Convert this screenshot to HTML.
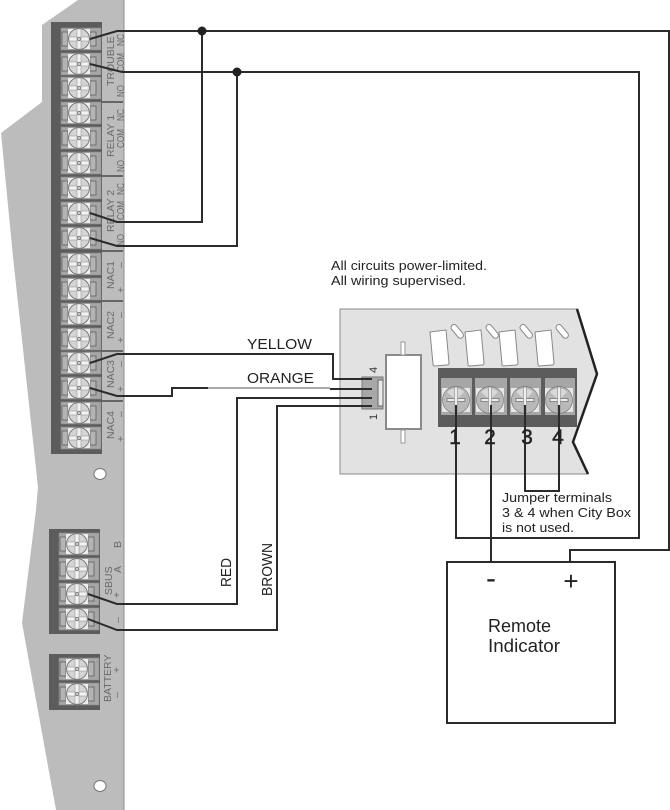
<!DOCTYPE html>
<html><head><meta charset="utf-8"><style>
html,body{margin:0;padding:0;background:#fff}
svg{display:block}
text{font-family:"Liberation Sans",sans-serif}
.w{fill:none;stroke:#2b2b2b;stroke-width:2}
.l{fill:#6a6a6a;font-size:10.5px}
.k{fill:#222;font-size:13px}
.c{fill:#222;font-size:15px}
</style></head><body>
<svg width="670" height="810" viewBox="0 0 670 810" xmlns="http://www.w3.org/2000/svg">
<defs>
<g id="t">
<rect x="-18" y="-11" width="40" height="22" fill="#a6a6a6" stroke="#8a8a8a" stroke-width=".6"/>
<rect x="-17" y="-7" width="6" height="14" fill="#b4b4b4" stroke="#555" stroke-width=".7"/>
<rect x="11" y="-7" width="6" height="14" fill="#b4b4b4" stroke="#555" stroke-width=".7"/>
<rect x="-11" y="-10" width="22" height="20" fill="#ededed"/>
<circle r="10.5" fill="#d4d4d4" stroke="#666" stroke-width=".8"/>
<rect x="-10" y="-2" width="20" height="4" fill="#f2f2f2" stroke="#888" stroke-width=".5"/>
<rect x="-2" y="-10" width="4" height="20" fill="#f2f2f2" stroke="#888" stroke-width=".5"/>
<circle r="1.8" fill="#ccc" stroke="#555" stroke-width=".6"/>
</g>
<g id="s">
<rect x="-14" y="-12" width="28" height="24" fill="#e6e6e6"/>
<circle r="13.5" fill="#b9b9b9" stroke="#777" stroke-width=".7"/>
<path d="M-9-8A12 12 0 0 1 8-8L0 0Z" fill="#d8d8d8"/>
<rect x="-9" y="-1.5" width="18" height="3" fill="#eee" stroke="#555" stroke-width=".6"/>
<rect x="-1.5" y="-13" width="3" height="26" fill="#eee" stroke="#777" stroke-width=".5"/>
</g>
<g id="f">
<path d="M-9-14L7-16L10 17Q10 19 8 19L-5 20Q-6 20-6 18Z" fill="#fff" stroke="#888" stroke-width="1"/>
<rect x="-5" y="-6" width="16" height="6" rx="3" transform="translate(14 -15) rotate(50)" fill="#fff" stroke="#888" stroke-width="1"/>
</g>
</defs>

<polygon points="78,0 124,0 124,810 56,810 22,623 36,510 38,487 13,257 1,133 42,102 42,25" fill="#bcbcbc"/>
<line x1="124" y1="0" x2="124" y2="810" stroke="#8e8e8e" stroke-width="1"/>
<rect x="51" y="22" width="51" height="432" fill="#5c5c5c"/>
<rect x="49" y="529" width="51" height="105" fill="#5c5c5c"/>
<rect x="49" y="654" width="51" height="56" fill="#5c5c5c"/>
<ellipse cx="100" cy="474" rx="6" ry="5.5" fill="#fff" stroke="#777"/>
<ellipse cx="100" cy="786" rx="6" ry="5.5" fill="#fff" stroke="#777"/>

<use href="#t" x="79" y="39"/><use href="#t" x="79" y="64"/><use href="#t" x="79" y="88"/>
<use href="#t" x="79" y="113"/><use href="#t" x="79" y="138"/><use href="#t" x="79" y="163"/>
<use href="#t" x="79" y="188"/><use href="#t" x="79" y="213"/><use href="#t" x="79" y="238"/>
<use href="#t" x="79" y="264"/><use href="#t" x="79" y="289"/><use href="#t" x="79" y="314"/>
<use href="#t" x="79" y="339"/><use href="#t" x="79" y="363"/><use href="#t" x="79" y="388"/>
<use href="#t" x="79" y="413"/><use href="#t" x="79" y="438"/>
<use href="#t" x="77" y="544"/><use href="#t" x="77" y="569"/><use href="#t" x="77" y="594"/><use href="#t" x="77" y="619"/>
<use href="#t" x="77" y="669"/><use href="#t" x="77" y="694"/>

<g stroke="#333" stroke-width="1.2">
<line x1="102" y1="102" x2="123" y2="102"/><line x1="102" y1="176" x2="123" y2="176"/>
<line x1="102" y1="251" x2="123" y2="251"/><line x1="102" y1="301" x2="123" y2="301"/>
<line x1="102" y1="351" x2="123" y2="351"/><line x1="102" y1="401" x2="123" y2="401"/>
</g>

<g class="l">
<text transform="translate(124,46) rotate(-90)" textLength="12" lengthAdjust="spacingAndGlyphs">NC</text>
<text transform="translate(124,72) rotate(-90)" textLength="19" lengthAdjust="spacingAndGlyphs">COM</text>
<text transform="translate(124,97) rotate(-90)" textLength="12" lengthAdjust="spacingAndGlyphs">NO</text>
<text transform="translate(114,86) rotate(-90)">TROUBLE</text>
<text transform="translate(124,121) rotate(-90)" textLength="12" lengthAdjust="spacingAndGlyphs">NC</text>
<text transform="translate(124,148) rotate(-90)" textLength="19" lengthAdjust="spacingAndGlyphs">COM</text>
<text transform="translate(124,172) rotate(-90)" textLength="12" lengthAdjust="spacingAndGlyphs">NO</text>
<text transform="translate(114,157) rotate(-90)">RELAY 1</text>
<text transform="translate(124,195) rotate(-90)" textLength="12" lengthAdjust="spacingAndGlyphs">NC</text>
<text transform="translate(124,220) rotate(-90)" textLength="19" lengthAdjust="spacingAndGlyphs">COM</text>
<text transform="translate(124,246) rotate(-90)" textLength="12" lengthAdjust="spacingAndGlyphs">NO</text>
<text transform="translate(114,232) rotate(-90)">RELAY 2</text>
<text transform="translate(114,289) rotate(-90)">NAC1</text>
<text transform="translate(114,339) rotate(-90)">NAC2</text>
<text transform="translate(114,388) rotate(-90)">NAC3</text>
<text transform="translate(114,439) rotate(-90)">NAC4</text>
<text transform="translate(124,268) rotate(-90)">–</text>
<text transform="translate(124,293) rotate(-90)">+</text>
<text transform="translate(124,318) rotate(-90)">–</text>
<text transform="translate(124,343) rotate(-90)">+</text>
<text transform="translate(124,367) rotate(-90)">–</text>
<text transform="translate(124,392) rotate(-90)">+</text>
<text transform="translate(124,417) rotate(-90)">–</text>
<text transform="translate(124,442) rotate(-90)">+</text>
<text transform="translate(121,548) rotate(-90)">B</text>
<text transform="translate(121,573) rotate(-90)">A</text>
<text transform="translate(112,595) rotate(-90)">SBUS</text>
<text transform="translate(120,598) rotate(-90)">+</text>
<text transform="translate(121,623) rotate(-90)">–</text>
<text transform="translate(111,702) rotate(-90)">BATTERY</text>
<text transform="translate(120,673) rotate(-90)">+</text>
<text transform="translate(120,698) rotate(-90)">–</text>
</g>

<polygon points="340,309 577,309 597,374 573,442 588,474 340,474" fill="#e2e2e2" stroke="#8a8a8a" stroke-width="1"/>
<polyline points="577,309 597,374 573,442 588,474" fill="none" stroke="#222" stroke-width="2.5"/>
<use href="#f" x="439" y="346"/><use href="#f" x="474" y="346"/><use href="#f" x="508" y="346"/><use href="#f" x="544" y="346"/>
<rect x="438" y="368" width="139" height="59" fill="#5c5c5c"/>
<g fill="#a6a6a6">
<rect x="441" y="378" width="31" height="37"/><rect x="475" y="378" width="32" height="37"/><rect x="510" y="378" width="31" height="37"/><rect x="545" y="378" width="30" height="37"/>
</g>
<use href="#s" x="456" y="400"/><use href="#s" x="490" y="400"/><use href="#s" x="525" y="400"/><use href="#s" x="559" y="400"/>

<rect x="386" y="355" width="35" height="74" fill="#fff" stroke="#8a8a8a" stroke-width="2"/>
<rect x="401" y="342" width="4" height="13" fill="#fff" stroke="#999"/>
<rect x="401" y="430" width="4" height="13" fill="#fff" stroke="#999"/>
<rect x="362" y="377" width="21" height="32" fill="#a8a8a8" stroke="#777"/>
<rect x="378" y="380" width="5" height="26" fill="#e8e8e8" stroke="#666"/>

<g class="w">
<polyline points="90,39 117,31 669,31 669,550 570,550 570,562"/>
<polyline points="90,64 122,72 639,72 639,538 456,538 456,405"/>
<polyline points="90,213 117,222 202,222 202,31"/>
<polyline points="90,238 117,246 237,246 237,72"/>
<polyline points="90,363 117,354 333,354 333,379 372,379"/>
<polyline points="90,388 117,396 172,396 172,388 208,388"/>
<polyline points="330,389 372,389"/>
<polyline points="372,398 237,398 237,604 117,604 88,594"/>
<polyline points="372,406 277,406 277,630 117,630 88,619"/>
<line x1="491" y1="405" x2="491" y2="562"/>
<polyline points="525,405 525,491 559,491 559,405"/>
<rect x="447" y="562" width="168" height="161"/>
</g>
<line x1="208" y1="388" x2="330" y2="388" stroke="#555" stroke-width="1"/>
<circle cx="202" cy="31" r="4.5" fill="#222"/>
<circle cx="237" cy="72" r="4.5" fill="#222"/>

<text class="k" x="331" y="270" textLength="156" lengthAdjust="spacingAndGlyphs">All circuits power-limited.</text>
<text class="k" x="331" y="285" textLength="135" lengthAdjust="spacingAndGlyphs">All wiring supervised.</text>
<text class="c" x="247" y="349" textLength="65" lengthAdjust="spacingAndGlyphs">YELLOW</text>
<text class="c" x="247" y="383" textLength="67" lengthAdjust="spacingAndGlyphs">ORANGE</text>
<text class="c" transform="translate(231,587) rotate(-90)" textLength="29" lengthAdjust="spacingAndGlyphs">RED</text>
<text class="c" transform="translate(272,596) rotate(-90)" textLength="53" lengthAdjust="spacingAndGlyphs">BROWN</text>
<text class="k" x="502" y="502" textLength="110" lengthAdjust="spacingAndGlyphs">Jumper terminals</text>
<text class="k" x="502" y="517" textLength="129" lengthAdjust="spacingAndGlyphs">3 &amp; 4 when City Box</text>
<text class="k" x="502" y="532" textLength="72" lengthAdjust="spacingAndGlyphs">is not used.</text>
<g fill="#222" stroke="#222" stroke-width=".4" font-size="21" text-anchor="middle">
<text x="455" y="444">1</text><text x="490" y="444">2</text><text x="527" y="444">3</text><text x="558" y="444">4</text>
</g>
<text transform="translate(377,373) rotate(-90)" fill="#333" font-size="11">4</text>
<text transform="translate(377,420) rotate(-90)" fill="#333" font-size="11">1</text>
<text x="491" y="588" fill="#222" font-size="30" text-anchor="middle">-</text>
<text x="571" y="590" fill="#222" font-size="26" text-anchor="middle">+</text>
<text x="488" y="632" fill="#222" font-size="18">Remote</text>
<text x="488" y="652" fill="#222" font-size="18" textLength="72" lengthAdjust="spacingAndGlyphs">Indicator</text>
</svg>
</body></html>
